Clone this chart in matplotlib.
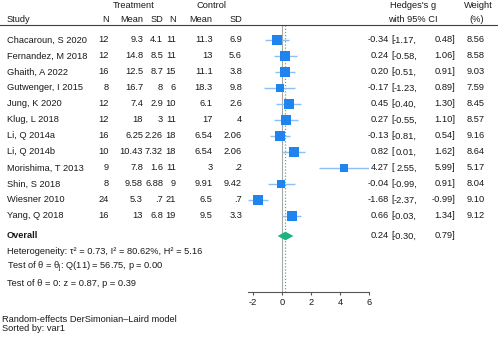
"""
Forest plot — Hedges's g (random-effects DerSimonian–Laird), layout à la Stata meta forestplot.
"""

import numpy as np
import matplotlib
matplotlib.use("Agg")
import matplotlib.pyplot as plt
import matplotlib.transforms as mtransforms
from matplotlib.lines import Line2D

plt.rcParams['font.family'] = ['Liberation Sans', 'DejaVu Sans']
plt.rcParams['mathtext.fontset'] = 'custom'
plt.rcParams['mathtext.rm'] = 'Liberation Sans'
plt.rcParams['mathtext.it'] = 'Liberation Sans:italic'
plt.rcParams['mathtext.default'] = 'regular'
plt.rcParams['axes.unicode_minus'] = False

# ── Dados ──
studies = ['Chacaroun, S 2020', 'Fernandez, M 2018', 'Ghaith, A 2022', 'Gutwenger, I 2015',
           'Jung, K 2020', 'Klug, L 2018', 'Li, Q 2014a', 'Li, Q 2014b',
           'Morishima, T 2013', 'Shin, S 2018', 'Wiesner 2010', 'Yang, Q 2018']
t_n    = [12, 12, 16, 8, 12, 12, 16, 10, 9, 8, 24, 16]
t_mean = [9.3, 14.8, 12.5, 16.7, 7.4, 18, 6.25, 10.43, 7.8, 9.58, 5.3, 13]
t_sd   = [4.1, 8.5, 8.7, 8, 2.9, 3, 2.26, 7.32, 1.6, 6.88, 0.7, 6.8]
c_n    = [11, 11, 15, 6, 10, 11, 18, 18, 11, 9, 21, 19]
c_mean = [11.3, 13, 11.1, 18.3, 6.1, 17, 6.54, 6.54, 3, 9.91, 6.5, 9.5]
c_sd   = [6.9, 5.6, 3.8, 9.8, 2.6, 4, 2.06, 2.06, 0.2, 9.42, 0.7, 3.3]
g      = [-0.34, 0.24, 0.20, -0.17, 0.45, 0.27, -0.13, 0.82, 4.27, -0.04, -1.68, 0.66]
g_lo   = [-1.17, -0.58, -0.51, -1.23, -0.40, -0.55, -0.81, 0.01, 2.55, -0.99, -2.37, -0.03]
g_hi   = [0.48, 1.06, 0.91, 0.89, 1.30, 1.10, 0.54, 1.62, 5.99, 0.91, -0.99, 1.34]
weight = [8.56, 8.58, 9.03, 7.59, 8.45, 8.57, 9.16, 8.64, 5.17, 8.04, 9.10, 9.12]

overall_g, overall_lo, overall_hi = 0.24, -0.30, 0.79
x_ticks = [-2, 0, 2, 4, 6]

W, H = 498, 338
FS = 6.7
TXT = '#1a1a1a'
BLUE = '#1f84ee'
BLUE_CI = '#8cc0f4'
GREEN = '#1db37e'


def fmt(v):
    """Formato estilo Stata: 0.7 -> .7, 18.0 -> 18."""
    s = f'{v:g}'
    if s.startswith('0.'):
        s = s[1:]
    return s


def fx(px):
    return px / W


def fy(py):
    return 1 - py / H


fig = plt.figure(figsize=(W / 100, H / 100), dpi=100)
# eixo do forest plot: x de -2.37 (247.6 px) a 6 (369 px), y do traço do cabeçalho (25 px) ao eixo (292 px)
ax = fig.add_axes([fx(247.6), fy(292), fx(369) - fx(247.6), fy(25) - fy(292)])

n = len(studies)
rows = np.arange(n)
overall_row = (236 - 40) / 16

ax.set_xlim(min(g_lo), 6)
ax.set_ylim((292 - 40) / 16, (25 - 40) / 16)

ax.axvline(0, color='#a8a8a8', lw=0.8, zorder=1)
ax.axvline(overall_g, color='#4cbb6c', lw=0.9, ls=(0, (1, 1.5)), zorder=1)

for i in rows:
    ax.plot([g_lo[i], g_hi[i]], [i, i], color=BLUE_CI, lw=1.0, zorder=2,
            solid_capstyle='butt')
    side = 6.6 * np.sqrt(weight[i] / 8.56)
    ax.plot(g[i], i, marker='s', ms=side, color=BLUE, mec=BLUE, mew=0, zorder=3)

dh = 0.27
ax.fill([overall_lo, overall_g, overall_hi, overall_g],
        [overall_row, overall_row - dh, overall_row, overall_row + dh],
        color=GREEN, lw=0, zorder=3)

for s in ['top', 'right', 'left']:
    ax.spines[s].set_visible(False)
ax.spines['bottom'].set_color('#555555')
ax.spines['bottom'].set_linewidth(0.8)
ax.set_yticks([])
ax.set_xticks(x_ticks)
ax.tick_params(axis='x', direction='out', length=2.5, width=0.8, color='#555555',
               labelsize=FS, labelcolor=TXT, pad=1.5)
ax.patch.set_alpha(0)

# ── Textos ──
row_tr = mtransforms.blended_transform_factory(fig.transFigure, ax.transData)


def put(px, row, s, ha='right', **kw):
    fig.text(fx(px), row, s, transform=row_tr, ha=ha, va='center',
             fontsize=FS, color=TXT, **kw)


def head(px, py, s, ha='center', **kw):
    fig.text(fx(px), fy(py), s, ha=ha, va='center', fontsize=FS, color=TXT, **kw)


head(134, 6, 'Treatment')
head(211, 6, 'Control')
head(413, 6, "Hedges's g")
head(478, 6, 'Weight')
head(7, 19, 'Study', ha='left')
for px, s in [(109, 'N'), (143, 'Mean'), (163, 'SD'),
              (176, 'N'), (212.5, 'Mean'), (242, 'SD')]:
    head(px, 19, s, ha='right')
head(413, 19, 'with 95% CI')
head(477, 19, '(%)')

fig.add_artist(Line2D([0, 1], [fy(25), fy(25)], transform=fig.transFigure,
                      color='#404040', lw=0.8))

for i in rows:
    put(7, i, studies[i], ha='left')
    put(109, i, str(t_n[i]))
    put(143, i, fmt(t_mean[i]))
    put(163, i, fmt(t_sd[i]))
    put(176, i, str(c_n[i]))
    put(212.5, i, fmt(c_mean[i]))
    put(242, i, fmt(c_sd[i]))
    put(388.5, i, f'{g[i]:.2f}')
    put(391, i, '[', ha='left')
    put(417, i, f'{g_lo[i]:.2f},')
    put(455, i, f'{g_hi[i]:.2f}]')
    put(485, i, f'{weight[i]:.2f}')

put(7, overall_row, 'Overall', ha='left', fontweight='bold')
put(388.5, overall_row, f'{overall_g:.2f}')
put(391, overall_row, '[', ha='left')
put(417, overall_row, f'{overall_lo:.2f},')
put(455, overall_row, f'{overall_hi:.2f}]')

head(7, 251, 'Heterogeneity: τ² = 0.73, I² = 80.62%, H² = 5.16', ha='left')
head(7, 267.5, r'Test of $\theta$ = $\theta_j$: Q(11) = 56.75, p = 0.00', ha='left')
head(7, 283, 'Test of θ = 0: z = 0.87, p = 0.39', ha='left')

head(2, 319, 'Random-effects DerSimonian–Laird model', ha='left')
head(2, 328.5, 'Sorted by: var1', ha='left')

fig.savefig('out.png', dpi=100)
